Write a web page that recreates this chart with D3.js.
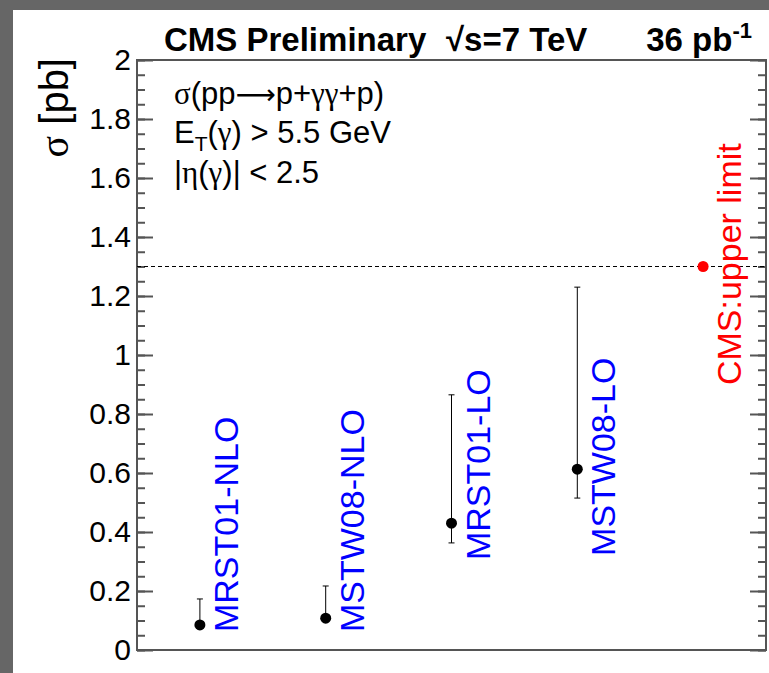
<!DOCTYPE html>
<html>
<head>
<meta charset="utf-8">
<script src="https://cdn.jsdelivr.net/npm/d3@7"></script>
<style>
  body { margin: 0; background: #666; }
  svg { display: block; }
  text { font-family: "Liberation Sans", Arial, sans-serif; white-space: pre; }
  .greek { font-family: "Liberation Serif", "Times New Roman", serif; }
</style>
</head>
<body>
<div id="chart"></div>
<script>
// Chart size, frame sits inside the white pad
const width = 769;
const height = 673;
const frame = {left: 137, right: 766, top: 60, bottom: 650};

// Predictions (value with asymmetric error band) and the CMS limit
const models = ["MRST01-NLO", "MSTW08-NLO", "MRST01-LO", "MSTW08-LO", "CMS:upper limit"];
const sigma = [0.085, 0.108, 0.43, 0.613, 1.3];
const sigmaHigh = [0.173, 0.217, 0.865, 1.23, 1.3];
const sigmaLow = [0.085, 0.108, 0.363, 0.515, 1.3];
const labelColor = ["#0000ff", "#0000ff", "#0000ff", "#0000ff", "#ff0000"];
// where each label starts, in sigma units (as in the ROOT macro)
const labelStart = [0.061, 0.061, 0.305, 0.319, 0.898];
const upperLimit = 1.3;

const yTicks = [0, 0.2, 0.4, 0.6, 0.8, 1, 1.2, 1.4, 1.6, 1.8, 2];
const yMinor = d3.range(0, 2.0001, 0.05);

const svg = d3.select("#chart")
  .append("svg")
  .attr("width", width)
  .attr("height", height);

// white canvas with a gray border top/left
svg.append("rect")
  .attr("x", 13).attr("y", 10)
  .attr("width", width - 13).attr("height", height - 10)
  .attr("fill", "#fff");

const y = d3.scaleLinear()
  .domain([0, 2])
  .range([frame.bottom, frame.top]);

const x = d3.scaleBand()
  .domain(models)
  .range([frame.left, frame.right]);

const cx = d => x(d) + x.bandwidth() / 2;

/* axes */

// left side: major + minor ticks point inwards
svg.append("g")
  .attr("transform", `translate(${frame.left},0)`)
  .call(d3.axisRight(y).tickValues(yMinor).tickSize(8).tickFormat(""))
  .call(g => g.select(".domain").remove());

svg.append("g")
  .attr("transform", `translate(${frame.left},0)`)
  .call(d3.axisRight(y).tickValues(yTicks).tickSize(16).tickFormat(""))
  .call(g => g.select(".domain").remove());

// labels on the outside
svg.append("g")
  .attr("transform", `translate(${frame.left},0)`)
  .call(d3.axisLeft(y).tickValues(yTicks).tickSize(0).tickPadding(6).tickFormat(d3.format("~g")))
  .call(g => g.select(".domain").remove())
  .selectAll("text")
    .attr("font-size", 30)
    .attr("fill", "#000")
    .attr("font-family", "Liberation Sans, Arial, sans-serif");

// right side mirror
svg.append("g")
  .attr("transform", `translate(${frame.right},0)`)
  .call(d3.axisLeft(y).tickValues(yMinor).tickSize(8).tickFormat(""))
  .call(g => g.select(".domain").remove());

svg.append("g")
  .attr("transform", `translate(${frame.right},0)`)
  .call(d3.axisLeft(y).tickValues(yTicks).tickSize(16).tickFormat(""))
  .call(g => g.select(".domain").remove());

svg.selectAll(".tick line")
  .attr("stroke", "#555")
  .attr("stroke-width", 2);

// frame
svg.append("rect")
  .attr("x", frame.left).attr("y", frame.top)
  .attr("width", frame.right - frame.left)
  .attr("height", frame.bottom - frame.top)
  .attr("fill", "none")
  .attr("stroke", "#555")
  .attr("stroke-width", 2);

// y title
const ytitle = svg.append("text")
  .attr("transform", `translate(68,${frame.top - 2}) rotate(-90)`)
  .attr("text-anchor", "end")
  .attr("font-size", 40);
ytitle.append("tspan").attr("class", "greek").text("σ");
ytitle.append("tspan").text(" [pb]");

// top title, three pieces like the original
const tt = svg.append("g").attr("font-size", 33).attr("font-weight", "bold");
tt.append("text").attr("x", 164).attr("y", 51).text("CMS Preliminary");
tt.append("text").attr("x", 446).attr("y", 51).text("√s=7 TeV");
const lumi = tt.append("text").attr("x", 752).attr("y", 51).attr("text-anchor", "end");
lumi.append("tspan").text("36 pb");
lumi.append("tspan").attr("dy", -13).attr("font-size", 22).text("-1");

// process description
const info = svg.append("g").attr("font-size", 31);
const l1 = info.append("text").attr("x", 174).attr("y", 104);
l1.append("tspan").attr("class", "greek").text("σ");
l1.append("tspan").text("(pp");
l1.append("tspan").attr("font-family", "DejaVu Sans").attr("font-size", 28).text("⟶");
l1.append("tspan").text("p+");
l1.append("tspan").attr("class", "greek").text("γγ");
l1.append("tspan").text("+p)");

const l2 = info.append("text").attr("x", 174).attr("y", 143);
l2.append("tspan").text("E");
l2.append("tspan").attr("dy", 8).attr("font-size", 21).text("T");
l2.append("tspan").attr("dy", -8).text("(");
l2.append("tspan").attr("class", "greek").text("γ");
l2.append("tspan").text(") > 5.5 GeV");

const l3 = info.append("text").attr("x", 174).attr("y", 183);
l3.append("tspan").text("|");
l3.append("tspan").attr("class", "greek").text("η");
l3.append("tspan").text("(");
l3.append("tspan").attr("class", "greek").text("γ");
l3.append("tspan").text(")| < 2.5");

// upper limit line
svg.append("line")
  .attr("x1", frame.left).attr("x2", frame.right)
  .attr("y1", y(upperLimit)).attr("y2", y(upperLimit))
  .attr("stroke", "#000")
  .attr("stroke-width", 1)
  .attr("stroke-dasharray", "4,3");

/* points with error bars */

const idx = d3.range(models.length);
const bars = idx.filter(i => sigmaHigh[i] > sigmaLow[i]);

svg.selectAll(".err")
  .data(bars)
  .enter()
  .append("line")
    .attr("x1", i => cx(models[i])).attr("x2", i => cx(models[i]))
    .attr("y1", i => y(sigmaLow[i])).attr("y2", i => y(sigmaHigh[i]))
    .attr("stroke", "#000");

svg.selectAll(".capHi")
  .data(bars)
  .enter()
  .append("line")
    .attr("x1", i => cx(models[i]) - 3).attr("x2", i => cx(models[i]) + 3)
    .attr("y1", i => y(sigmaHigh[i])).attr("y2", i => y(sigmaHigh[i]))
    .attr("stroke", "#000");

svg.selectAll(".capLo")
  .data(bars.filter(i => sigmaLow[i] < sigma[i]))
  .enter()
  .append("line")
    .attr("x1", i => cx(models[i]) - 3).attr("x2", i => cx(models[i]) + 3)
    .attr("y1", i => y(sigmaLow[i])).attr("y2", i => y(sigmaLow[i]))
    .attr("stroke", "#000");

svg.selectAll(".pt")
  .data(idx)
  .enter()
  .append("circle")
    .attr("cx", i => cx(models[i]))
    .attr("cy", i => y(sigma[i]))
    .attr("r", 5.5)
    .attr("fill", i => i === models.length - 1 ? "#ff0000" : "#000");

svg.selectAll(".lbl")
  .data(idx)
  .enter()
  .append("text")
    .attr("transform", i => `translate(${cx(models[i]) + 38},${y(labelStart[i])}) rotate(-90)`)
    .attr("font-size", 34)
    .attr("fill", i => labelColor[i])
    .text(i => models[i]);
</script>
</body>
</html>
